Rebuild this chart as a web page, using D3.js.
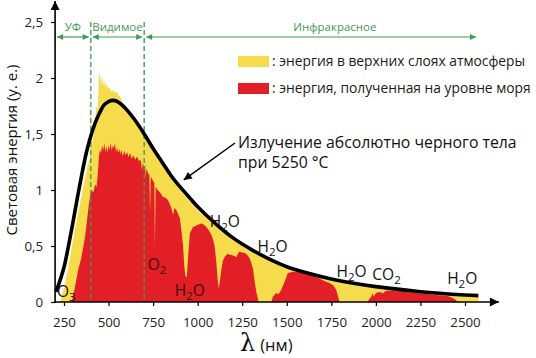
<!DOCTYPE html>
<html><head><meta charset="utf-8">
<script src="https://cdn.jsdelivr.net/npm/d3@7"></script>
<style>body{margin:0;background:#fff}svg{display:block;font-family:"Open Sans",sans-serif}</style>
</head><body><svg id="c" width="536" height="358"></svg>
<script>
// ---- data ----
const xTicks = [250, 500, 750, 1000, 1250, 1500, 1750, 2000, 2250, 2500];
const yTicks = [0, 0.5, 1, 1.5, 2, 2.5];

// blackbody radiation at 5250 °C  [λ nm, energy]
const blackbody = [[205,0.09],[225,0.18],[250,0.31],[275,0.50],[300,0.71],[325,0.93],[350,1.14],[375,1.33],[400,1.48],[425,1.60],[450,1.69],[475,1.76],[500,1.79],[525,1.80],[550,1.79],[575,1.76],[600,1.72],[650,1.62],[700,1.50],[750,1.37],[800,1.25],[850,1.13],[900,1.03],[950,0.94],[1000,0.85],[1100,0.70],[1200,0.57],[1300,0.47],[1400,0.385],[1500,0.315],[1600,0.265],[1750,0.205],[1900,0.16],[2000,0.137],[2250,0.092],[2500,0.063],[2575,0.057]];

// top of atmosphere
const topAtmosphere = [[228,0],[250,0.12],[270,0.28],[284,0.40],[300,0.55],[321,0.73],[340,0.88],[358,1.03],[380,1.20],[395,1.28],[398,1.72],[402,1.74],[405,1.40],[415,1.48],[425,1.58],[432,1.76],[440,1.72],[445,2.00],[450,2.05],[455,2.00],[460,1.94],[465,2.02],[470,1.93],[476,1.98],[482,1.92],[490,1.95],[498,1.90],[505,1.92],[515,1.88],[525,1.89],[535,1.87],[545,1.88],[555,1.85],[565,1.83],[575,1.80],[585,1.74],[600,1.70],[650,1.60],[700,1.48],[750,1.35],[800,1.22],[850,1.11],[900,1.00],[950,0.91],[1000,0.82],[1100,0.68],[1200,0.55],[1300,0.45],[1400,0.37],[1500,0.30],[1600,0.25],[1750,0.19],[1900,0.148],[2000,0.125],[2250,0.083],[2500,0.056],[2575,0.050]];

// sea level
const seaLevel = [[293,0],[310,0.12],[330,0.29],[345,0.38],[358,0.49],[368,0.58],[377,0.70],[388,0.85],[396,0.94],[405,1.00],[415,0.98],[425,1.05],[433,1.03],[440,1.15],[446,1.30],[452,1.36],[458,1.33],[464,1.40],[470,1.35],[476,1.42],[482,1.34],[488,1.39],[494,1.33],[500,1.40],[506,1.36],[512,1.42],[518,1.35],[524,1.40],[530,1.37],[536,1.42],[542,1.34],[548,1.38],[554,1.33],[560,1.37],[566,1.32],[572,1.36],[580,1.30],[588,1.35],[596,1.31],[604,1.34],[612,1.29],[620,1.33],[630,1.28],[640,1.31],[650,1.27],[660,1.30],[670,1.26],[680,1.27],[688,1.18],[692,1.24],[700,1.20],[706,1.22],[709,1.10],[712,1.19],[722,1.15],[729,1.13],[733,0.80],[737,1.12],[750,1.08],[757,1.06],[760,0.49],[764,1.03],[775,1.00],[788,0.98],[804,0.94],[820,0.93],[833,0.91],[850,0.85],[862,0.78],[870,0.84],[881,0.82],[892,0.78],[900,0.75],[910,0.62],[918,0.50],[926,0.30],[932,0.23],[939,0.22],[946,0.40],[956,0.61],[965,0.64],[974,0.67],[990,0.68],[1002,0.69],[1021,0.70],[1035,0.69],[1049,0.67],[1062,0.64],[1077,0.60],[1088,0.55],[1096,0.49],[1105,0.35],[1112,0.20],[1118,0.12],[1126,0.20],[1134,0.30],[1142,0.37],[1155,0.41],[1170,0.43],[1180,0.42],[1191,0.42],[1205,0.41],[1217,0.40],[1225,0.43],[1236,0.45],[1250,0.44],[1264,0.44],[1278,0.42],[1292,0.39],[1300,0.35],[1310,0.30],[1320,0.18],[1329,0.09],[1342,0],[1413,0],[1422,0.05],[1441,0.08],[1454,0.07],[1469,0.11],[1488,0.18],[1506,0.26],[1534,0.27],[1570,0.27],[1609,0.26],[1650,0.23],[1684,0.21],[1720,0.18],[1740,0.17],[1760,0.15],[1777,0.11],[1788,0.05],[1796,0],[1952,0],[1965,0.03],[1973,0.045],[1982,0.075],[1988,0.05],[2001,0.08],[2020,0.09],[2030,0.085],[2038,0.075],[2048,0.09],[2057,0.10],[2076,0.10],[2120,0.095],[2169,0.09],[2220,0.08],[2262,0.075],[2310,0.068],[2355,0.06],[2390,0.055],[2412,0.05],[2439,0.03],[2462,0]];

const regionNames = ["УФ", "Видимое", "Инфракрасное"];
const regionBounds = [[200, 400], [400, 700], [700, 2573]];
const legendLabels = [": энергия в верхних слоях атмосферы", ": энергия, полученная на уровне моря"];
const absorbers = [
  {a:"O", s:"3", b:"", l:211, v:0.045, dark:false},
  {a:"O", s:"2", b:"", l:720, v:0.286, dark:true},
  {a:"H", s:"2", b:"O", l:872, v:0.054, dark:true},
  {a:"H", s:"2", b:"O", l:1068, v:0.67, dark:false},
  {a:"H", s:"2", b:"O", l:1336, v:0.445, dark:false},
  {a:"H", s:"2", b:"O", l:1779, v:0.222, dark:false},
  {a:"CO", s:"2", b:"", l:1980, v:0.196, dark:false},
  {a:"H", s:"2", b:"O", l:2400, v:0.16, dark:false}
];
const bbLabel = ["Излучение абсолютно черного тела", "при 5250 °C"];

// ---- drawing ----
const YELLOW = "#f6dc4c", RED = "#e21f26", GREEN = "#3f9b55";
const svg = d3.select("#c");
const x = d3.scaleLinear().domain([250, 2500]).range([64, 465]);
const y = d3.scaleLinear().domain([0, 2.5]).range([302, 22]);
const x0 = x(200), y0 = y(0);

const defs = svg.append("defs");
function marker(id, color, w, h, orient) {
  defs.append("marker").attr("id", id).attr("viewBox", "0 0 10 10")
    .attr("refX", 10).attr("refY", 5).attr("markerWidth", w).attr("markerHeight", h)
    .attr("markerUnits", "userSpaceOnUse").attr("orient", orient)
    .append("path").attr("d", "M0,0 L10,5 L0,10 Z").attr("fill", color);
}
marker("ga", GREEN, 7, 6, "auto-start-reverse");
marker("ba", "#000", 10, 9, "auto");
marker("ka", "#000", 9, 8, "auto");

const area = d3.area().x(d => x(d[0])).y0(y0).y1(d => y(d[1]));
svg.append("path").datum(topAtmosphere).attr("d", area).attr("fill", YELLOW);
svg.append("path").datum(seaLevel).attr("d", area).attr("fill", RED);

// dashed region boundaries
svg.selectAll("line.div").data([400, 700]).join("line")
  .attr("x1", d => x(d)).attr("x2", d => x(d)).attr("y1", y(2.5)).attr("y2", y0)
  .attr("stroke", GREEN).attr("stroke-width", 1.6).attr("stroke-dasharray", "5,3").attr("opacity", 0.85);

// blackbody curve
svg.append("path").datum(blackbody)
  .attr("d", d3.line().x(d => x(d[0])).y(d => y(d[1])).curve(d3.curveCatmullRom.alpha(0.5)))
  .attr("fill", "none").attr("stroke", "#000").attr("stroke-width", 3.6).attr("stroke-linecap", "butt");

// region arrows
const ry = 37;
regionBounds.forEach((b, i) => {
  svg.append("line").attr("x1", x(b[0]) + 2).attr("x2", x(b[1]) - 2).attr("y1", ry).attr("y2", ry)
    .attr("stroke", GREEN).attr("stroke-width", 1.2)
    .attr("marker-start", "url(#ga)").attr("marker-end", "url(#ga)");
  svg.append("text").attr("x", i === 2 ? x(1770) : (x(b[0]) + x(b[1])) / 2).attr("y", 31)
    .attr("text-anchor", "middle").attr("font-size", 11.5).attr("fill", GREEN).text(regionNames[i]);
});

// legend
legendLabels.forEach((t, i) => {
  const ly = 56 + i * 27;
  svg.append("rect").attr("x", 238).attr("y", ly).attr("width", 31).attr("height", 11)
    .attr("fill", i === 0 ? YELLOW : RED);
  svg.append("text").attr("x", 272).attr("y", ly + 10).attr("font-size", 13.8).attr("fill", "#1a1a1a").text(t);
});

// blackbody annotation
svg.append("line").attr("x1", 235).attr("y1", 143).attr("x2", x(922)).attr("y2", y(1.09))
  .attr("stroke", "#000").attr("stroke-width", 1.5).attr("marker-end", "url(#ka)");
const bbt = svg.append("text").attr("x", 238).attr("y", 148).attr("font-size", 15.8).attr("fill", "#111");
bbLabel.forEach((t, i) => {
  bbt.append("tspan").attr("x", 238).attr("dy", i === 0 ? 0 : 19.5).text(t);
});

// absorber labels
absorbers.forEach(d => {
  const t = svg.append("text").attr("x", x(d.l)).attr("y", y(d.v)).attr("font-size", 15.5)
    .attr("fill", d.dark ? "#3a0808" : "#111");
  t.append("tspan").text(d.a);
  t.append("tspan").attr("font-size", 11.5).attr("dy", 4).text(d.s);
  if (d.b) t.append("tspan").attr("dy", -4).text(d.b);
});

// axes
const ax = svg.append("g").attr("transform", `translate(${x0},0)`)
  .call(d3.axisLeft(y).tickValues(yTicks).tickSize(4).tickPadding(8)
    .tickFormat(d => String(d).replace(".", ",")));
const bx = svg.append("g").attr("transform", `translate(0,${y0})`)
  .call(d3.axisBottom(x).tickValues(xTicks).tickSize(4).tickPadding(12).tickFormat(d3.format("d")));
[ax, bx].forEach(g => {
  g.select(".domain").remove();
  g.selectAll("text").attr("font-size", 13.3).attr("fill", "#222").attr("font-family", '"Open Sans",sans-serif');
  g.selectAll("line").attr("stroke", "#000").attr("stroke-width", 1.2);
});
svg.append("line").attr("x1", x0).attr("x2", x0).attr("y1", y0 + 1).attr("y2", 1)
  .attr("stroke", "#000").attr("stroke-width", 1.6).attr("marker-end", "url(#ba)");
svg.append("line").attr("x1", x0 - 1).attr("x2", x(2690)).attr("y1", y0).attr("y2", y0)
  .attr("stroke", "#000").attr("stroke-width", 1.6).attr("marker-end", "url(#ba)");

// axis titles
const xt = svg.append("text").attr("x", 240).attr("y", 351).attr("fill", "#111");
xt.append("tspan").attr("font-family", '"DejaVu Serif",serif').attr("font-size", 24).text("λ");
xt.append("tspan").attr("font-size", 16.5).attr("dx", 5).text("(нм)");
svg.append("text").attr("transform", `translate(11,${150}) rotate(-90)`).attr("text-anchor", "middle")
  .attr("dominant-baseline", "central").attr("font-size", 15).attr("fill", "#111")
  .text("Световая энергия (у. е.)");
</script></body></html>
